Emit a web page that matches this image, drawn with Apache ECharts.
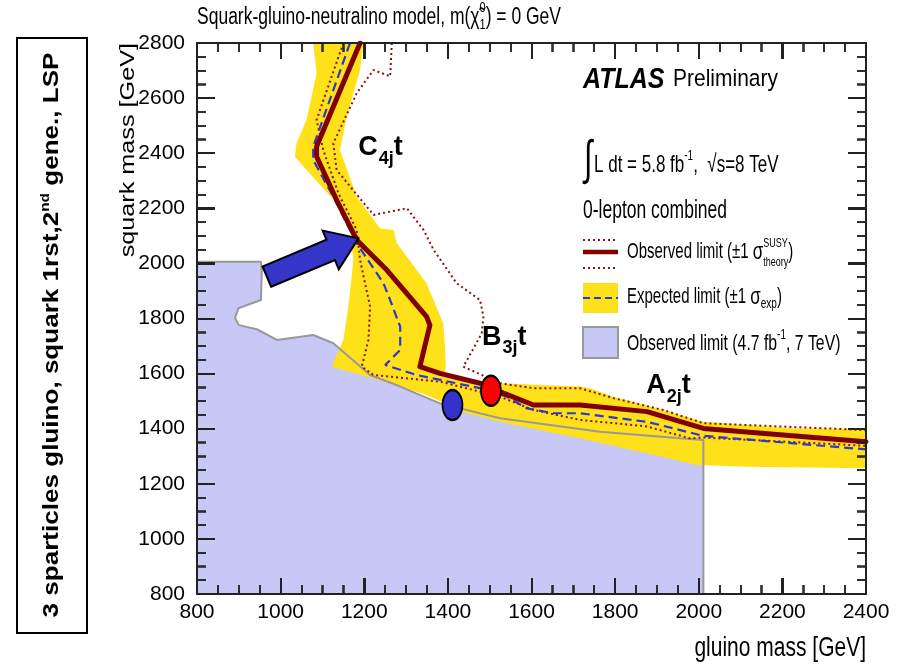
<!DOCTYPE html>
<html>
<head>
<meta charset="utf-8">
<script src="https://cdn.jsdelivr.net/npm/echarts@6/dist/echarts.min.js"></script>
<style>
  html, body { margin: 0; padding: 0; background: #fff; }
  #chart { width: 899px; height: 664px; }
</style>
</head>
<body>
<div id="chart"></div>
<script>
// axis ranges, GeV
const gluinoRange = [800, 2400];
const squarkRange = [800, 2800];
const majorStep = 200;
const minorStep = 50;

// observed limit 4.7 fb-1, 7 TeV (shaded region, clockwise)
const obs7TeV = [[800, 2006], [953, 2006], [955, 1976], [953, 1867], [899, 1837], [891, 1802], [900, 1776],
  [943, 1761], [991, 1722], [1078, 1740], [1126, 1710], [1214, 1595], [1286, 1553], [1381, 1492],
  [1525, 1438], [1764, 1389], [1955, 1365], [2011, 1359], [2011, 800], [800, 800]];

// expected limit +-1 sigma_exp band (outline)
const expBand = [[1078, 2800], [1086, 2690], [1062, 2521], [1038, 2436], [1034, 2388], [1062, 2339],
  [1134, 2218], [1166, 2121], [1174, 2012], [1162, 1843], [1150, 1722], [1122, 1625], [1166, 1607],
  [1246, 1571], [1349, 1522], [1445, 1456], [1541, 1420], [1620, 1395], [1716, 1365], [1876, 1311],
  [1995, 1268], [2115, 1262], [2400, 1256],
  [2400, 1401], [2234, 1401], [2011, 1425], [1915, 1468], [1796, 1516], [1740, 1547], [1716, 1553],
  [1525, 1565], [1389, 1589], [1395, 1620], [1393, 1700], [1389, 1782], [1349, 1928], [1278, 2073],
  [1270, 2121], [1238, 2127], [1182, 2242], [1142, 2412], [1158, 2533], [1190, 2702], [1198, 2800]];

const observed = [[1190, 2800], [1086, 2424], [1086, 2388], [1134, 2230], [1182, 2085], [1254, 1976],
  [1349, 1807], [1357, 1776], [1333, 1625], [1381, 1601], [1477, 1565], [1533, 1529], [1605, 1486],
  [1716, 1486], [1876, 1462], [2011, 1401], [2400, 1353]];

const expected = [[1166, 2800], [1078, 2424], [1078, 2375], [1126, 2242], [1182, 2073], [1246, 1928],
  [1262, 1867], [1286, 1770], [1286, 1686], [1250, 1631], [1325, 1595], [1477, 1547], [1541, 1516],
  [1589, 1474], [1653, 1456], [1716, 1456], [1876, 1425], [2011, 1374], [2400, 1325]];

const theoryUp = [[1266, 2800], [1262, 2679], [1222, 2702], [1182, 2618], [1126, 2436], [1134, 2339],
  [1222, 2176], [1302, 2200], [1342, 2121], [1366, 2049], [1421, 1928], [1477, 1867], [1485, 1807],
  [1481, 1746], [1437, 1625], [1525, 1565], [1605, 1547], [1716, 1547], [1796, 1511], [1915, 1468],
  [2011, 1420], [2400, 1395]];

const theoryDown = [[1150, 2800], [1086, 2521], [1102, 2412], [1138, 2255], [1182, 2121], [1190, 2012],
  [1214, 1843], [1210, 1722], [1194, 1625], [1222, 1595], [1381, 1571], [1525, 1516], [1605, 1468],
  [1716, 1432], [1876, 1408], [1979, 1365], [2011, 1368], [2400, 1338]];

// benchmark points
const bluePoint = [[1411, 1486]];
const redPoint = [[1503, 1538]];

// arrow annotation (data coords)
const arrowTail = [967, 1952];
const arrowTip = [1186, 2091];

// region labels
const regionAnchors = [[1209, 2419], [1505, 1731], [1898, 1555]];
const regionNames = [["C", "4j", "t"], ["B", "3j", "t"], ["A", "2j", "t"]];

const GRID = { left: 197, top: 43, width: 669, height: 551 };
const FONT = "'Liberation Sans', Arial, Helvetica, sans-serif";
const ctx = document.createElement("canvas").getContext("2d");

function tw(str, size, weight, style) {
  ctx.font = (style || "normal") + " " + (weight || "normal") + " " + size + "px " + FONT;
  return ctx.measureText(str).width;
}

function txt(x, y, str, size, o) {
  o = o || {};
  return {
    type: "text", x: x, y: y, silent: true,
    style: {
      text: str, fontSize: size, fontFamily: FONT,
      fontWeight: o.weight || "normal", fontStyle: o.style || "normal",
      fill: o.color || "#000", align: o.align || "left", verticalAlign: "middle"
    }
  };
}

// lay out pieces of text left to right; hold stacks the next piece above/below it
function run(parts) {
  let x = 0, held = 0;
  const out = [];
  parts.forEach(p => {
    const w = tw(p.t, p.size, p.weight, p.style);
    out.push(txt(x, p.dy || 0, p.t, p.size, p));
    if (p.hold) {
      held = w;
    }
    else {
      x += Math.max(w, held);
      held = 0;
    }
  });
  return { children: out, width: x };
}

// series sit below z 0 so the frame stays on top of the fills
function polySeries(pts, style, z) {
  return {
    type: "custom", silent: true, z: z, data: [pts[0]],
    renderItem: (params, api) => ({
      type: "polygon",
      shape: { points: pts.map(p => api.coord(p)) },
      style: style
    })
  };
}

function lineSeries(pts, lineStyle, z) {
  return {
    type: "line", silent: true, z: z, data: pts,
    symbol: "none", showSymbol: false, lineStyle: lineStyle
  };
}

function axis(kind, pos, range, labels) {
  const isX = kind === "x";
  return {
    type: "value", gridIndex: 0, position: pos, min: range[0], max: range[1], interval: majorStep,
    axisLine: { show: true, onZero: false, lineStyle: { color: "#222", width: 2 } },
    axisTick: { show: true, inside: true, length: isX ? 16 : 18, lineStyle: { color: "#222", width: 2 } },
    minorTick: { show: true, splitNumber: majorStep / minorStep, length: 9, lineStyle: { color: "#222", width: 1.5 } },
    splitLine: { show: false },
    axisLabel: labels ? {
      show: true, margin: isX ? 8 : 12, color: "#000", fontSize: 21, fontFamily: FONT,
      formatter: v => String(v)
    } : { show: false }
  };
}

const arrowSeries = {
  type: "custom", silent: true, z: -3, data: [arrowTail],
  renderItem: (params, api) => {
    const a = api.coord(arrowTail), b = api.coord(arrowTip);
    const dx = b[0] - a[0], dy = b[1] - a[1], len = Math.hypot(dx, dy);
    const ux = dx / len, uy = dy / len, nx = -uy, ny = ux;
    const hl = 30, hw = 21, sw = 11;
    const bx = b[0] - ux * hl, by = b[1] - uy * hl;
    return {
      type: "polygon",
      shape: {
        points: [
          [a[0] + nx * sw, a[1] + ny * sw], [bx + nx * sw, by + ny * sw], [bx + nx * hw, by + ny * hw], b,
          [bx - nx * hw, by - ny * hw], [bx - nx * sw, by - ny * sw], [a[0] - nx * sw, a[1] - ny * sw]
        ]
      },
      style: { fill: "#3535c9", stroke: "#000", lineWidth: 2 }
    };
  }
};

const labelSeries = {
  type: "custom", silent: true, z: -1, data: regionAnchors,
  renderItem: (params, api) => {
    const p = api.coord([api.value(0), api.value(1)]);
    const n = regionNames[params.dataIndex];
    const wBig = tw(n[0], 27, "bold"), wSub = tw(n[1], 18, "bold");
    return {
      type: "group", x: p[0] - wBig / 2, y: p[1],
      children: [
        txt(0, 0, n[0], 27, { weight: "bold" }),
        txt(wBig + 1, 11, n[1], 18, { weight: "bold" }),
        txt(wBig + wSub + 1, 0, n[2], 27, { weight: "bold" })
      ]
    };
  }
};

function pointSeries(pts, color) {
  return {
    type: "scatter", silent: true, z: -2, data: pts, symbol: "circle", symbolSize: [20, 30],
    itemStyle: { color: color, borderColor: "#000", borderWidth: 2, opacity: 1 }
  };
}

// text blocks
const title = run([
  { t: "Squark-gluino-neutralino model, m(", size: 17.5 },
  { t: "χ̃", size: 17.5 },
  { t: "0", size: 11, dy: -7, hold: true },
  { t: "1", size: 11, dy: 6 },
  { t: ") = 0 GeV", size: 17.5 }
]);
const side = run([
  { t: "3 sparticles gluino, squark 1rst,2", size: 22, weight: "bold" },
  { t: "nd", size: 13, weight: "bold", dy: -7 },
  { t: " gene., LSP", size: 22, weight: "bold" }
]);
const lumi = run([
  { t: "L dt = 5.8 fb", size: 17 },
  { t: "-1", size: 10, dy: -6 },
  { t: ",  √s=8 TeV", size: 17 }
]);
const entry1 = run([
  { t: "Observed limit (±1 ", size: 15 },
  { t: "σ", size: 17 },
  { t: "SUSY", size: 9, dy: -6, hold: true },
  { t: "theory", size: 9, dy: 7 },
  { t: ")", size: 15 }
]);
const entry2 = run([
  { t: "Expected limit (±1 ", size: 15 },
  { t: "σ", size: 17 },
  { t: "exp", size: 10, dy: 5 },
  { t: ")", size: 15 }
]);
const entry3 = run([
  { t: "Observed limit (4.7 fb", size: 15.8 },
  { t: "-1", size: 10, dy: -6 },
  { t: ", 7 TeV)", size: 15.8 }
]);

// inside frame ticks on all four sides, mapped from the same axis ranges as the grid
const tickMarks = [];
const gx = g => Math.round(GRID.left + (g - gluinoRange[0]) / (gluinoRange[1] - gluinoRange[0]) * GRID.width);
const sy = s => Math.round(GRID.top + GRID.height - (s - squarkRange[0]) / (squarkRange[1] - squarkRange[0]) * GRID.height);
function tick(x1, y1, x2, y2, w) {
  tickMarks.push({ type: "line", z: 10, silent: true, shape: { x1: x1, y1: y1, x2: x2, y2: y2 }, style: { stroke: "#222", lineWidth: w } });
}
for (let g = gluinoRange[0] + minorStep; g < gluinoRange[1]; g += minorStep) {
  const major = (g - gluinoRange[0]) % majorStep === 0;
  const len = major ? 16 : 9, w = major ? 2 : 1.5, x = gx(g);
  const yb = sy(squarkRange[0]), yt = sy(squarkRange[1]);
  tick(x, yb, x, yb - len, w);
  tick(x, yt, x, yt + len, w);
}
for (let s = squarkRange[0] + minorStep; s < squarkRange[1]; s += minorStep) {
  const major = (s - squarkRange[0]) % majorStep === 0;
  const len = major ? 18 : 9, w = major ? 2 : 1.5, y = sy(s);
  const xl = gx(gluinoRange[0]), xr = gx(gluinoRange[1]);
  tick(xl, y, xl + len, y, w);
  tick(xr, y, xr - len, y, w);
}

const graphic = [
  { type: "group", x: 197, y: 17, scaleY: 1.35, children: title.children },
  { type: "rect", shape: { x: 17, y: 38, width: 70, height: 595 }, style: { fill: "none", stroke: "#000", lineWidth: 2 } },
  {
    type: "group", x: 52, y: 335, rotation: Math.PI / 2, scaleX: 565 / side.width,
    children: [{ type: "group", x: -side.width / 2, children: side.children }]
  },
  {
    type: "group", x: 128, y: 43, rotation: Math.PI / 2, scaleX: 1.2,
    children: [txt(0, 0, "squark mass [GeV]", 21, { align: "right" })]
  },
  { type: "group", x: 866, y: 648, scaleY: 1.3, children: [txt(0, 0, "gluino mass [GeV]", 21, { align: "right" })] },

  // legend
  { type: "group", x: 583, y: 80, scaleY: 1.2, children: [txt(0, 0, "ATLAS", 25, { weight: "bold", style: "italic" })] },
  { type: "group", x: 673, y: 80, scaleY: 1.1, children: [txt(0, 0, "Preliminary", 21)] },
  { type: "group", x: 588, y: 161, scaleY: 1.6, children: [txt(0, 0, "∫", 30, { align: "center" })] },
  { type: "group", x: 594, y: 165, scaleY: 1.45, children: lumi.children },
  { type: "group", x: 583, y: 211, scaleY: 1.45, children: [txt(0, 0, "0-lepton combined", 17.5)] },

  { type: "line", shape: { x1: 583, y1: 240, x2: 618, y2: 240 }, style: { stroke: "#8b1010", lineWidth: 2, lineDash: [2, 3] } },
  { type: "line", shape: { x1: 583, y1: 252, x2: 618, y2: 252 }, style: { stroke: "#800000", lineWidth: 4.5 } },
  { type: "line", shape: { x1: 583, y1: 268, x2: 618, y2: 268 }, style: { stroke: "#8b1010", lineWidth: 2, lineDash: [2, 3] } },
  { type: "group", x: 627, y: 252, scaleY: 1.45, children: entry1.children },

  { type: "rect", shape: { x: 583, y: 283, width: 35, height: 30 }, style: { fill: "#ffe119" } },
  { type: "line", shape: { x1: 583, y1: 298, x2: 618, y2: 298 }, style: { stroke: "#2a3ad0", lineWidth: 2, lineDash: [7, 4] } },
  { type: "group", x: 627, y: 297, scaleY: 1.45, children: entry2.children },

  { type: "rect", shape: { x: 583, y: 327, width: 35, height: 31 }, style: { fill: "#c8c8f6", stroke: "#999", lineWidth: 2 } },
  { type: "group", x: 627, y: 344, scaleY: 1.45, children: entry3.children }
].concat(tickMarks);

const chart = echarts.init(document.getElementById("chart"), null, { renderer: "canvas" });
chart.setOption({
  animation: false,
  backgroundColor: "#fff",
  grid: { left: GRID.left, top: GRID.top, width: GRID.width, height: GRID.height, outerBoundsMode: "none" },
  xAxis: [axis("x", "bottom", gluinoRange, true), axis("x", "top", gluinoRange, false)],
  yAxis: [axis("y", "left", squarkRange, true), axis("y", "right", squarkRange, false)],
  graphic: graphic,
  series: [
    polySeries(obs7TeV, { fill: "#c8c8f6" }, -9),
    polySeries(expBand, { fill: "#ffe119" }, -8),
    lineSeries(obs7TeV.slice(0, -1), { color: "#999", width: 2 }, -7),
    lineSeries(theoryUp, { color: "#8b1010", width: 2, type: [2, 3] }, -6),
    lineSeries(theoryDown, { color: "#8b1010", width: 2, type: [2, 3] }, -6),
    lineSeries(expected, { color: "#2a3ad0", width: 2.2, type: [9, 5] }, -5),
    lineSeries(observed, { color: "#800000", width: 5, cap: "round", join: "round" }, -4),
    arrowSeries,
    pointSeries(bluePoint, "#3333cc"),
    pointSeries(redPoint, "#ff0000"),
    labelSeries
  ]
});
</script>
</body>
</html>
